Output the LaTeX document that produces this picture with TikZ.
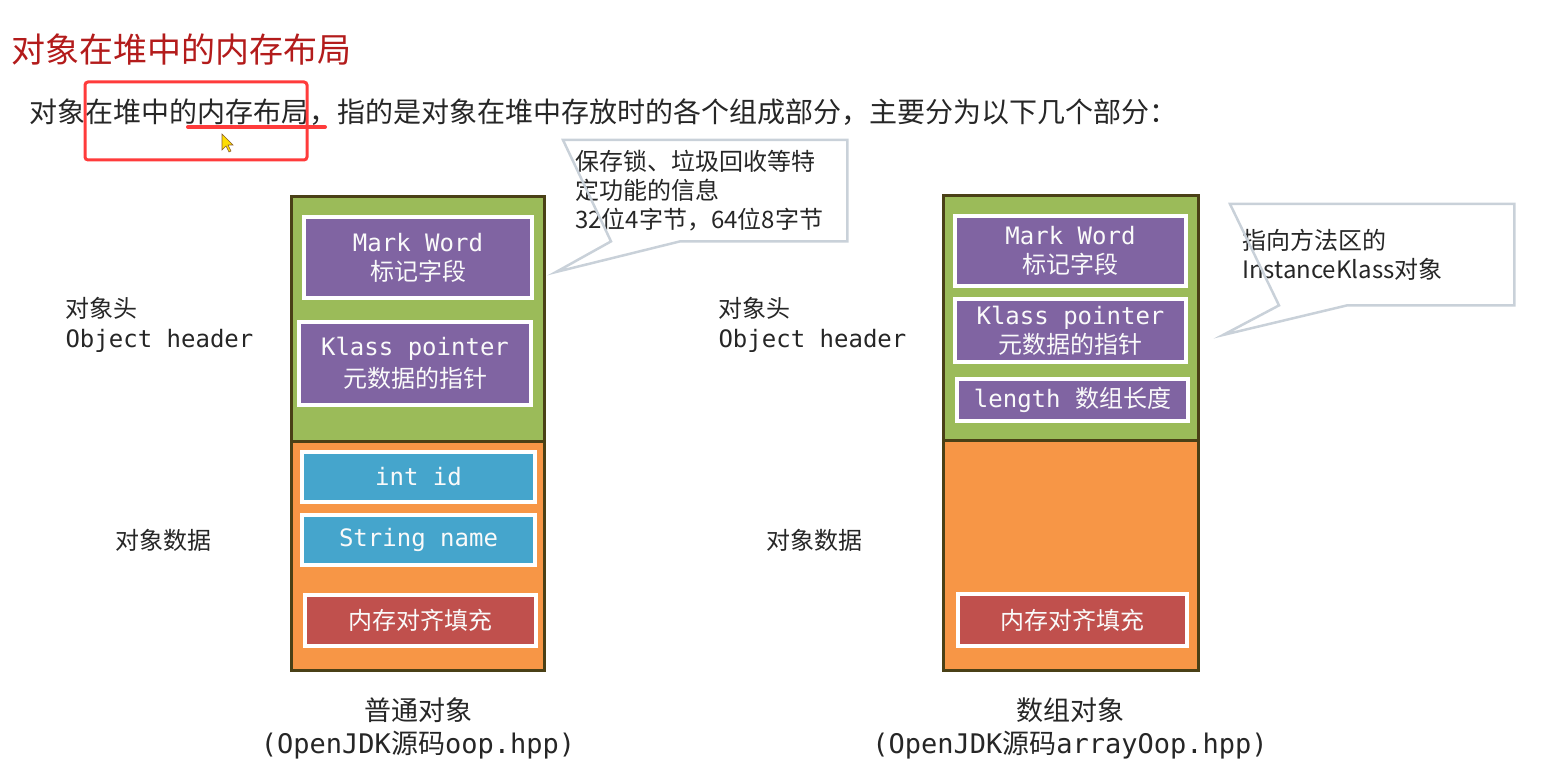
\documentclass[tikz,border=0pt]{standalone}
\usepackage{fontspec}
\setmainfont{Noto Sans CJK SC}
\setmonofont{DejaVu Sans Mono}
\usetikzlibrary{positioning,shadows}

\definecolor{txtgray}{HTML}{262626}
\definecolor{titlered}{HTML}{B31B1B}
\definecolor{markred}{HTML}{FF3B3B}
\definecolor{framebrown}{HTML}{4A4016}
\definecolor{hdrgreen}{HTML}{9BBB59}
\definecolor{datorange}{HTML}{F79646}
\definecolor{slotpurple}{HTML}{8064A2}
\definecolor{slotblue}{HTML}{45A5CC}
\definecolor{slotred}{HTML}{C0504D}
\definecolor{bubgray}{HTML}{C9D1D9}

\begin{document}
\begin{tikzpicture}[x=1pt,y=-1pt,
    every node/.style={font=\fontsize{24}{29}\selectfont, text=txtgray},
    part/.style={draw=framebrown, line width=3pt, minimum width=253, anchor=north west, inner sep=0pt, outer sep=0pt},
    slot/.style={draw=white, line width=4pt, text=white!96!gray, align=center, inner sep=0pt,
        drop shadow={opacity=0.25, shadow xshift=1pt, shadow yshift=-1.5pt}},
    bubble/.style={text width=260pt, align=left, minimum width=284, minimum height=101,
        inner xsep=12pt, inner ysep=0pt, anchor=north west},
    bubline/.style={draw=bubgray, line width=2.5pt, line join=miter}]
    \useasboundingbox (0,0) rectangle (1559,759);

    % 标题
    \node[font=\fontsize{34}{40}\selectfont, text=titlered, anchor=west] (title) at (8,50) {对象在堆中的内存布局};
    \node[font=\fontsize{28}{34}\selectfont, anchor=west] (intro) at (26,112)
        {对象在堆中的内存布局，指的是对象在堆中存放时的各个组成部分，主要分为以下几个部分：};

    % 红色标注与鼠标
    \draw[markred, line width=3pt, rounded corners=3pt] (85,82) rectangle (307,160);
    \draw[markred, line width=4pt, line cap=round] (188,127) -- (325,127);
    \filldraw[fill=yellow!80!orange, draw=brown!70!black, line width=0.6pt]
        (222,134) -- (222,150) -- (226,146) -- (229,152) -- (231,151) -- (228,145) -- (233,145) -- cycle;

    % 普通对象
    \node[part, fill=hdrgreen, minimum height=244] (lhead) at (291,197) {};
    \node[part, fill=datorange, minimum height=229] (ldata) at (lhead.south west) {};
    \node[slot, fill=slotpurple, minimum width=228, minimum height=81] (lmark) at (418,257.5) {\texttt{Mark Word}\\标记字段};
    \node[slot, fill=slotpurple, minimum width=232, minimum height=83, font=\fontsize{24}{32}\selectfont] (lklass) at (415,363.5) {\texttt{Klass pointer}\\元数据的指针};
    \node[slot, fill=slotblue, minimum width=233, minimum height=50] (lid) at (418.5,477) {\texttt{int id}};
    \node[slot, fill=slotblue, minimum width=233, minimum height=50] (lname) at (418.5,540) {\texttt{String name}};
    \node[slot, fill=slotred, minimum width=231, minimum height=51] (lpad) at (420.5,620.5) {内存对齐填充};

    \node[anchor=west, align=left, font=\fontsize{24}{30}\selectfont] (lhdr) at (62,325) {对象头\\\texttt{Object header}};
    \node (ldat) at (163,540) {对象数据};
    \node[align=center, font=\fontsize{27}{33}\selectfont] (lcap) at (418,728) {普通对象\\\texttt{(OpenJDK}源码\texttt{oop.hpp)}};

    % 数组对象
    \node[part, fill=hdrgreen, minimum height=244, minimum width=255] (rhead) at (943,196) {};
    \node[part, fill=datorange, minimum height=230, minimum width=255] (rdata) at (rhead.south west) {};
    \node[slot, fill=slotpurple, minimum width=231, minimum height=70] (rmark) at (1070.5,251) {\texttt{Mark Word}\\标记字段};
    \node[slot, fill=slotpurple, minimum width=231, minimum height=63] (rklass) at (1070.5,330.5) {\texttt{Klass pointer}\\元数据的指针};
    \node[slot, fill=slotpurple, minimum width=231, minimum height=42] (rlen) at (1072.5,400) {\texttt{length\ }数组长度};
    \node[slot, fill=slotred, minimum width=229, minimum height=52] (rpad) at (1072.5,620) {内存对齐填充};

    \node[anchor=west, align=left, font=\fontsize{24}{30}\selectfont] (rhdr) at (715,325) {对象头\\\texttt{Object header}};
    \node (rdat) at (814,540) {对象数据};
    \node[align=center, font=\fontsize{27}{33}\selectfont] (rcap) at (1070,728) {数组对象\\\texttt{(OpenJDK}源码\texttt{arrayOop.hpp)}};

    % 说明气泡
    \coordinate (tipA) at (556,272);
    \node[bubble] (bubA) at (563,140) {保存锁、垃圾回收等特\\定功能的信息\\32位4字节，64位8字节};
    \draw[bubline] (bubA.north west) -- (bubA.north east) -- (bubA.south east)
        -- ([xshift=117pt]bubA.south west) -- (tipA) -- ([xshift=48pt]bubA.south west) -- cycle;

    \coordinate (tipB) at (1223,335);
    \node[bubble] (bubB) at (1230,204) {指向方法区的\\InstanceKlass对象};
    \draw[bubline] (bubB.north west) -- (bubB.north east) -- (bubB.south east)
        -- ([xshift=117pt]bubB.south west) -- (tipB) -- ([xshift=49pt]bubB.south west) -- cycle;
\end{tikzpicture}
\end{document}
